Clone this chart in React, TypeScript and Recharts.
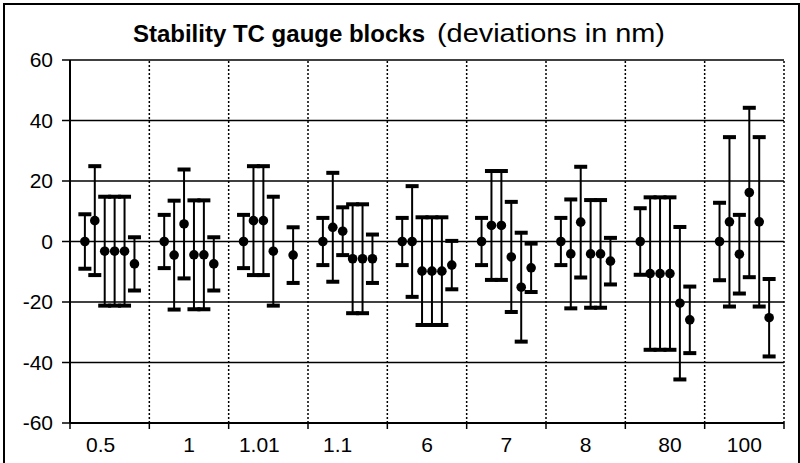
import React from 'react';
import { ScatterChart, Scatter, XAxis, YAxis, CartesianGrid, ErrorBar, ReferenceLine } from 'recharts';

const categories = ['0.5', '1', '1.01', '1.1', '6', '7', '8', '80', '100'];
const yTicks = [-60, -40, -20, 0, 20, 40, 60];
const slotsPerGroup = 8;

// mean deviation per measurement (nm), six measurements per gauge block
const means: (number | null)[][] = [
  [0, 6.9, -3.2, -3.2, -3.2, -7.4],
  [0, -4.5, 5.8, -4.4, -4.4, -7.4],
  [0, 6.9, 6.9, -3.2, null, -4.5],
  [0, 4.7, 3.4, -5.7, -5.7, -5.7],
  [0, 0, -9.8, -9.8, -9.8, -7.8],
  [0, 5.3, 5.3, -5.1, -15.1, -8.7],
  [0, -4.1, 6.4, -4.1, -4.1, -6.5],
  [0, -10.6, -10.6, -10.6, -20.4, -25.9],
  [0, 6.5, -4.2, 16.2, 6.5, -25.2],
];
// uncertainty (half-width of error bar, nm)
const uncertainties: number[][] = [
  [9, 18, 18, 18, 18, 8.8],
  [8.8, 18, 18, 18, 18, 8.8],
  [8.8, 18, 18, 18, 0, 9.2],
  [7.8, 18, 7.9, 18, 18, 8],
  [7.8, 18.3, 17.8, 17.8, 17.8, 8],
  [7.8, 18, 18, 18.2, 18, 8],
  [7.8, 18, 18.3, 17.8, 17.8, 7.7],
  [11, 25.2, 25.2, 25.2, 25.2, 11],
  [12.8, 28, 13, 28, 28, 12.8],
];

const points: { x: number; y: number; err: number }[] = [];
const caps: { x: number; y: number }[] = [];
means.forEach((row, gi) => {
  row.forEach((m, j) => {
    if (m === null) return;
    const u = uncertainties[gi][j];
    const x = gi * slotsPerGroup + j + 1.5;
    points.push({ x, y: m, err: u });
    caps.push({ x, y: m + u });
    caps.push({ x, y: m - u });
  });
});

const total = categories.length * slotsPerGroup;
const boundaryTicks = categories.map((_, i) => i * slotsPerGroup).concat([total]);
const dividerTicks = boundaryTicks.slice(1);
const labelTicks = categories.map((_, i) => i * slotsPerGroup + slotsPerGroup / 2);

const FONT = '"Liberation Sans", Arial, sans-serif';
// horizontal nudges of some category labels (styling, px)
const labelNudge: Record<string, number> = { '0.5': -9, '1.01': -9, '1.1': -10, '80': 5 };

const Dot = (props: any) => {
  const { cx, cy } = props;
  if (cx == null || cy == null) return null;
  return <circle cx={cx} cy={cy} r={4.8} fill="#000" />;
};

const Cap = (props: any) => {
  const { cx, cy } = props;
  if (cx == null || cy == null) return null;
  return <rect x={cx - 6.5} y={cy - 2} width={13} height={4} fill="#000" />;
};

const EmptyTick = () => <g />;

const LabelTick = (props: any) => {
  const { x, y, payload } = props;
  const label = categories[Math.floor(payload.value / slotsPerGroup)];
  return (
    <text
      x={x + (labelNudge[label] || 0)}
      y={y}
      dy="0.71em"
      textAnchor="middle"
      fontFamily={FONT}
      fontSize={21}
      fill="#000"
    >
      {label}
    </text>
  );
};

export default function App() {
  return (
    <div style={{ position: 'absolute', left: 0, top: 0, width: 800, height: 463, background: '#fff' }}>
      <ScatterChart width={800} height={463} margin={{ top: 60, right: 16, bottom: 0, left: 0 }}>
        <CartesianGrid xAxisId="b" horizontal={true} vertical={false} stroke="#000" strokeWidth={1.5} strokeOpacity={1} />
        <XAxis
          xAxisId="b"
          type="number"
          dataKey="x"
          domain={[0, total]}
          ticks={boundaryTicks}
          interval={0}
          tick={EmptyTick}
          tickSize={6}
          height={1}
          allowDataOverflow
          axisLine={{ stroke: '#000', strokeWidth: 2 }}
          tickLine={{ stroke: '#000', strokeWidth: 1.5 }}
        />
        <XAxis
          xAxisId="l"
          type="number"
          dataKey="x"
          domain={[0, total]}
          ticks={labelTicks}
          interval={0}
          allowDataOverflow
          axisLine={false}
          tickLine={false}
          tickSize={6}
          tickMargin={7}
          height={39}
          tick={LabelTick}
        />
        <YAxis
          type="number"
          dataKey="y"
          domain={[-60, 60]}
          ticks={yTicks}
          interval={0}
          allowDataOverflow
          width={70}
          tickSize={8}
          tickMargin={9}
          axisLine={{ stroke: '#000', strokeWidth: 2 }}
          tickLine={{ stroke: '#000', strokeWidth: 1.5 }}
          tick={{ fill: '#000', fontSize: 21, fontFamily: FONT }}
        />
        {dividerTicks.map((t) => (
          <ReferenceLine
            key={t}
            xAxisId="b"
            x={t}
            stroke="#000"
            strokeWidth={1.5}
            strokeDasharray="2 2"
            ifOverflow="visible"
          />
        ))}
        <Scatter xAxisId="b" data={caps} shape={Cap} isAnimationActive={false} />
        <Scatter xAxisId="b" data={points} shape={Dot} isAnimationActive={false}>
          <ErrorBar dataKey="err" direction="y" width={0} stroke="#000" strokeWidth={2} isAnimationActive={false} />
        </Scatter>
      </ScatterChart>
      <svg
        width={800}
        height={463}
        style={{ position: 'absolute', left: 0, top: 0, pointerEvents: 'none' }}
      >
        <rect x={4} y={4} width={795} height={470} fill="none" stroke="#000" strokeWidth={2} />
        <text x={425} y={42} textAnchor="end" fontFamily={FONT} fontSize={24} fontWeight="bold" fill="#000">
          Stability TC gauge blocks
        </text>
        <text
          x={437}
          y={42}
          fontFamily={FONT}
          fontSize={26}
          fill="#000"
          textLength={228}
          lengthAdjust="spacingAndGlyphs"
        >
          (deviations in nm)
        </text>
      </svg>
    </div>
  );
}
